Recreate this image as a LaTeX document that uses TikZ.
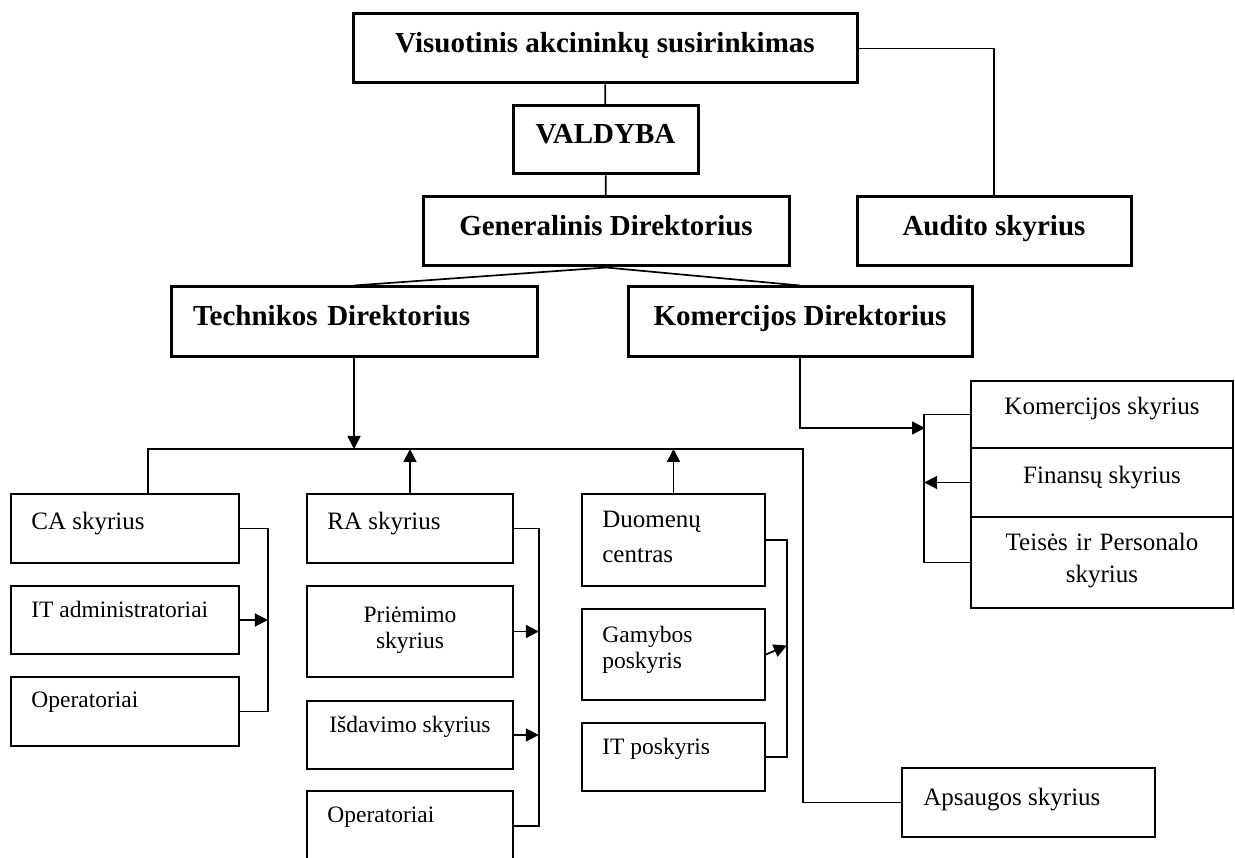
\documentclass[tikz,border=0pt]{standalone}
\usepackage{fontspec}
\setmainfont{Liberation Serif}
\usetikzlibrary{arrows.meta}

\tikzset{
  head/.style={draw,line width=3pt,inner sep=0pt,text height=19pt,text depth=11pt,font=\fontsize{29}{33}\selectfont\bfseries},
  unit/.style={draw,line width=1.7pt,inner sep=0pt},
  lbl/.style={inner sep=0pt,font=\fontsize{25}{30}\selectfont},
  lblsmall/.style={inner sep=0pt,font=\fontsize{23.5}{26}\selectfont},
  conn/.style={line width=1.7pt},
  arr/.style={line width=1.7pt,-{Triangle[length=13pt,width=13pt]}},
}

\begin{document}
\begin{tikzpicture}[x=1pt,y=-1pt]
\path[fill=white,use as bounding box] (0,0) rectangle (1235,858);
%\draw[color=black!20,step=50] (0,0) grid (1235,858);

% management
\node[head,minimum width=504,minimum height=69] (vis) at (605,48.5) {Visuotinis akcininkų susirinkimas};
\node[head,minimum width=185,minimum height=68] (val) at (605.5,140) {VALDYBA};
\node[head,minimum width=366,minimum height=69] (gen) at (606,231.5) {Generalinis Direktorius};
\node[head,minimum width=274,minimum height=69] (aud) at (994,231.5) {Audito skyrius};
\node[head,minimum width=366,minimum height=70,text width=322,align=left,inner xsep=22] (tech) at (354,322) {Technikos Direktorius};
\node[head,minimum width=344,minimum height=70] (kom) at (800,322) {Komercijos Direktorius};

% CA column
\node[unit,minimum width=228,minimum height=69] (ca) at (125,528.5) {};
\node[unit,minimum width=228,minimum height=68] (itadm) at (125,620) {};
\node[unit,minimum width=228,minimum height=69] (opa) at (125,711.5) {};
% RA column
\node[unit,minimum width=206,minimum height=69] (ra) at (410,528.5) {};
\node[unit,minimum width=206,minimum height=91] (pri) at (410,631.5) {};
\node[unit,minimum width=206,minimum height=68] (isd) at (410,735) {};
\node[unit,minimum width=206,minimum height=70] (opb) at (410,826) {};
% data centre column
\node[unit,minimum width=183,minimum height=92] (duo) at (673.5,540) {};
\node[unit,minimum width=183,minimum height=91] (gam) at (673.5,654.5) {};
\node[unit,minimum width=183,minimum height=68] (itpo) at (673.5,757) {};
% commercial side
\node[unit,minimum width=262,minimum height=67] (ks) at (1102,414.5) {};
\node[unit,minimum width=262,minimum height=69] (fin) at (1102,482.5) {};
\node[unit,minimum width=262,minimum height=91] (tei) at (1102,562.5) {};
\node[unit,minimum width=253,minimum height=69] (aps) at (1028.5,802.5) {};

% texts of the units
\node[lbl,anchor=base west] (caT) at ([shift={(21,36)}]ca.north west) {CA skyrius};
\node[lblsmall,anchor=base west] (itadmT) at ([shift={(21,32)}]itadm.north west) {IT administratoriai};
\node[lblsmall,anchor=base west] (opaT) at ([shift={(21,31)}]opa.north west) {Operatoriai};
\node[lbl,anchor=base west] (raT) at ([shift={(21,36)}]ra.north west) {RA skyrius};
\node[lblsmall,anchor=base,text width=200,align=center] (priT) at ([shift={(0,37)}]pri.north) {Priėmimo\\skyrius};
\node[lblsmall,anchor=base west] (isdT) at ([shift={(23,32)}]isd.north west) {Išdavimo skyrius};
\node[lblsmall,anchor=base west] (opbT) at ([shift={(21,32)}]opb.north west) {Operatoriai};
\node[lbl,anchor=base west,text width=160,align=left,font=\fontsize{25}{35}\selectfont] (duoT) at ([shift={(21,34)}]duo.north west) {Duomenų\\centras};
\node[lblsmall,anchor=base west,text width=160,align=left] (gamT) at ([shift={(21,34)}]gam.north west) {Gamybos\\poskyris};
\node[lblsmall,anchor=base west] (itpoT) at ([shift={(21,32)}]itpo.north west) {IT poskyris};
\node[lbl,anchor=base] (ksT) at ([shift={(0,34)}]ks.north) {Komercijos skyrius};
\node[lbl,anchor=base] (finT) at ([shift={(0,36)}]fin.north) {Finansų skyrius};
\node[lbl,anchor=base,text width=250,align=center,font=\fontsize{25}{32}\selectfont] (teiT) at ([shift={(0,34)}]tei.north) {Teisės ir Personalo\\skyrius};
\node[lbl,anchor=base west] (apsT) at ([shift={(22,38)}]aps.north west) {Apsaugos skyrius};

% connectors
\coordinate (busl) at (148,449);
\coordinate (busr) at (803,449);
\coordinate (kin) at (925,428);
\draw[conn] (vis) -- (val);
\draw[conn] (val) -- (gen);
\draw[conn] (vis.east) -| (aud.north);
\draw[conn] (gen.south) -- (tech.north);
\draw[conn] (gen.south) -- (kom.north);
\draw[arr] (tech.south) -- (tech.south |- busl);
\draw[conn] (busl |- ca.north) -- (busl) -- (busr) |- (aps.west);
\draw[arr] (ra.north) -- (ra.north |- busl);
\draw[arr] (duo.north) -- (duo.north |- busl);
\draw[conn] (ca.east) -- ++(28,0) |- (opa.east);
\draw[arr] (itadm.east) -- ++(28,0);
\draw[conn] (ra.east) -- ++(25,0) |- (opb.east);
\draw[arr] (pri.east) -- ++(25,0);
\draw[arr] (isd.east) -- ++(25,0);
\draw[conn] (duo.east) -- ++(21,0) |- (itpo.east);
\draw[arr] (gam.east) -- ++(21,-9);
\draw[arr] (kom.south) |- (kin);
\draw[conn] (ks.west) -- ++(-46,0) |- (tei.west);
\draw[arr] (fin.west) -- ++(-46,0);
\end{tikzpicture}
\end{document}
